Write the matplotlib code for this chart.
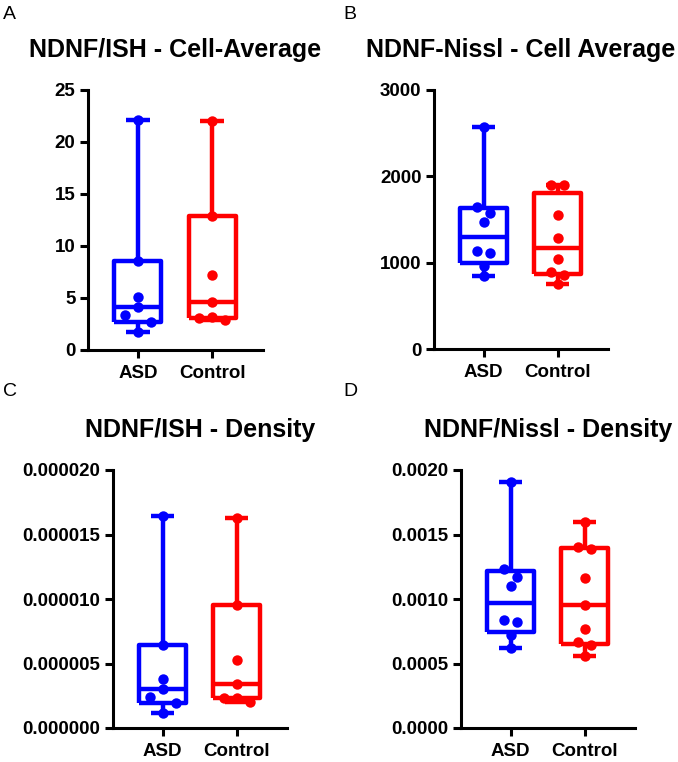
import numpy as np
import matplotlib
matplotlib.use("Agg")
import matplotlib.pyplot as plt

plt.rcParams['font.family'] = ['Liberation Sans', 'DejaVu Sans']

groups = ['ASD', 'Control']
colors = ['#0000ff', '#ff0000']

# values
cellavg_ish_asd = [22.1, 8.6, 5.1, 4.1, 3.4, 2.7, 1.7]
cellavg_ish_ctrl = [22.0, 12.9, 7.2, 4.65, 3.15, 3.1, 2.9]

cellavg_nissl_asd = [2570, 1650, 1580, 1470, 1130, 1110, 960, 840]
cellavg_nissl_ctrl = [1905, 1895, 1550, 1290, 1040, 895, 855, 750]

density_ish_asd = [16.4e-6, 6.4e-6, 3.8e-6, 3.0e-6, 2.4e-6, 1.9e-6, 1.2e-6]
density_ish_ctrl = [16.3e-6, 9.5e-6, 5.3e-6, 3.4e-6, 2.35e-6, 2.3e-6, 2.05e-6]

density_nissl_asd = [0.00191, 0.00123, 0.00117, 0.00110, 0.00084, 0.00082, 0.00072, 0.00062]
density_nissl_ctrl = [0.00160, 0.00140, 0.00139, 0.00116, 0.00095, 0.00077, 0.00067, 0.00064, 0.00056]

ticks_a = [0, 5, 10, 15, 20, 25]
ticks_b = [0, 1000, 2000, 3000]
ticks_c = [0, 0.000005, 0.000010, 0.000015, 0.000020]
ticks_d = [0, 0.0005, 0.0010, 0.0015, 0.0020]

panels = [
    ('A', 'NDNF/ISH - Cell-Average', cellavg_ish_asd, cellavg_ish_ctrl, ticks_a, '{:.0f}'),
    ('B', 'NDNF-Nissl - Cell Average', cellavg_nissl_asd, cellavg_nissl_ctrl, ticks_b, '{:.0f}'),
    ('C', 'NDNF/ISH - Density', density_ish_asd, density_ish_ctrl, ticks_c, '{:.6f}'),
    ('D', 'NDNF/Nissl - Density', density_nissl_asd, density_nissl_ctrl, ticks_d, '{:.4f}'),
]

W, H = 678, 762
# axes rectangles in pixels: left, right, top, bottom
rects = [(88, 263, 90, 350), (434, 608, 90, 349), (113, 287, 470, 728), (461, 635, 470, 728)]
letter_pos = [(3, 6), (343, 6), (3, 383), (343, 383)]

fig = plt.figure(figsize=(W / 100, H / 100), dpi=100)


def swarm_offsets(ax, vals, pos):
    # group points that would overlap vertically, spread each group sideways
    order = np.argsort(vals)[::-1]
    ypx = ax.transData.transform(np.column_stack([np.full(len(vals), pos), vals]))[:, 1]
    px_per_x = ax.transData.transform((1, 0))[0] - ax.transData.transform((0, 0))[0]
    step = 13 / px_per_x
    offs = np.zeros(len(vals))
    clusters = [[order[0]]]
    for i in order[1:]:
        if ypx[clusters[-1][-1]] - ypx[i] < 8:
            clusters[-1].append(i)
        else:
            clusters.append([i])
    for cl in clusters:
        k = len(cl)
        if k % 2:
            slots = [0] + [s * m for m in range(1, k) for s in (-1, 1)]
        else:
            slots = [s * (m - 0.5) for m in range(1, k) for s in (-1, 1)]
        for j, idx in enumerate(cl):
            offs[idx] = slots[j] * step
    return pos + offs


for (letter, title, asd, ctrl, ticks, fmt), (l, r, t, b), (lx, ly) in zip(panels, rects, letter_pos):
    ax = fig.add_axes([l / W, 1 - b / H, (r - l) / W, (b - t) / H])
    ax.set_xlim(0.33, 2.68)
    ax.set_ylim(ticks[0], ticks[-1])

    for pos, vals, c in zip([1, 2], [asd, ctrl], colors):
        vals = np.array(vals)
        q1, med, q3 = np.percentile(vals, [25, 50, 75], method='weibull')
        stats = [dict(med=med, q1=q1, q3=q3, whislo=vals.min(), whishi=vals.max(), fliers=[])]
        lp = dict(color=c, linewidth=3.2, solid_capstyle='butt')
        ax.bxp(stats, positions=[pos], widths=0.63, capwidths=[0.32],
               boxprops=lp, whiskerprops=lp, capprops=lp, medianprops=lp,
               showfliers=False, manage_ticks=False)
        xs = swarm_offsets(ax, vals, pos)
        ax.plot(xs, vals, 'o', color=c, markersize=7.5, markeredgewidth=0, zorder=5)

    ax.set_xticks([1, 2])
    ax.set_xticklabels(groups, fontsize=13.5, fontweight='bold')
    ax.set_yticks(ticks)
    ax.set_yticklabels([fmt.format(v) for v in ticks], fontsize=13.5, fontweight='bold')
    ax.tick_params(axis='both', width=2.2, length=6, color='black')
    ax.tick_params(axis='x', pad=5)
    ax.tick_params(axis='y', pad=3)
    for s in ['top', 'right']:
        ax.spines[s].set_visible(False)
    for s in ['left', 'bottom']:
        ax.spines[s].set_linewidth(2.2)
    ax.set_title(title, fontsize=18, fontweight='bold', pad=24)

    fig.text(lx / W, 1 - ly / H, letter, fontsize=14, ha='left', va='top')

fig.savefig('out.png', dpi=100)
